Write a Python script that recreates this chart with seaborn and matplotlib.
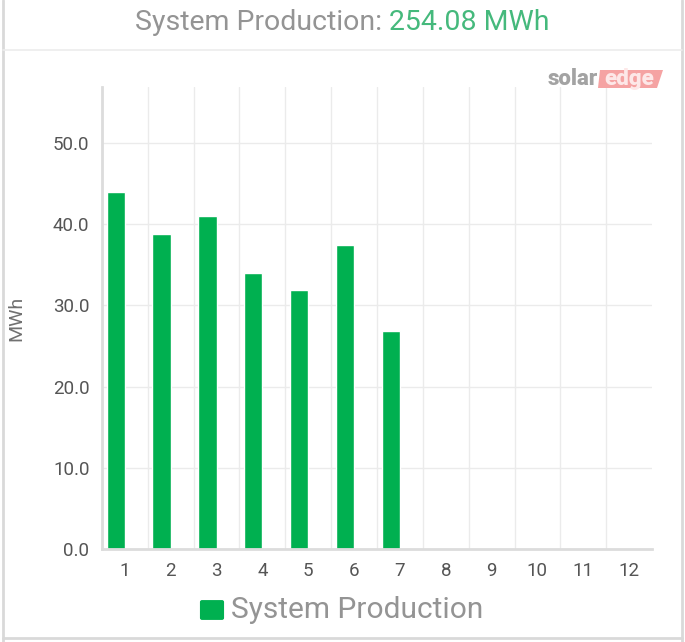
import matplotlib
matplotlib.use("Agg")
import matplotlib.pyplot as plt
from matplotlib.patches import FancyBboxPatch, Polygon
from matplotlib.lines import Line2D
import seaborn as sns
import pandas as pd
import numpy as np

# ---- data ----
months = ["1", "2", "3", "4", "5", "6", "7", "8", "9", "10", "11", "12"]
production = [44.0, 38.8, 41.0, 34.0, 31.9, 37.5, 26.9, np.nan, np.nan, np.nan, np.nan, np.nan]
series_name = "System Production"
total_text = "254.08 MWh"
y_ticks = [0, 10, 20, 30, 40, 50]

sns.set_theme(style="white")
plt.rcParams["font.family"] = ["Roboto", "DejaVu Sans"]

df = pd.DataFrame({
    "month": months * 2,
    "value": production + [np.nan] * len(months),
    "series": [series_name] * len(months) + ["_empty"] * len(months),
})

W, H = 685, 642
fig = plt.figure(figsize=(W / 100, H / 100), dpi=100)
ax = fig.add_axes([102 / W, 1 - 549 / H, (652 - 102) / W, (549 - 87) / H])

green = "#00B050"
sns.barplot(data=df, x="month", y="value", hue="series", order=months,
            hue_order=[series_name, "_empty"], palette=[green, green],
            width=0.8, dodge=True, ax=ax, legend=False, saturation=1)

ax.set_ylim(0, 56.9)
ax.set_xlim(-0.5, 11.5)
ax.set_yticks(y_ticks)
ax.set_yticklabels([f"{v:.1f}" for v in y_ticks])
ax.set_xlabel("")
ax.set_ylabel("MWh", color="#707070", fontsize=14, labelpad=20)
ax.tick_params(axis="both", colors="#555555", labelsize=13.5, length=0, pad=9)
for t in ax.get_xticklabels() + ax.get_yticklabels():
    t.set_color("#555555")

grid_c = "#ebebeb"
for yv in y_ticks[1:]:
    ax.axhline(yv, color=grid_c, lw=1, zorder=0)
for xv in np.arange(0.5, 11.5, 1):
    ax.axvline(xv, color=grid_c, lw=1, zorder=0)
ax.set_axisbelow(True)

for s in ["top", "right"]:
    ax.spines[s].set_visible(False)
ax.spines["left"].set_color("#dcdcdc")
ax.spines["left"].set_linewidth(2)
ax.spines["bottom"].set_color("#dcdcdc")
ax.spines["bottom"].set_linewidth(2)

# frame / header separators
fig.add_artist(Line2D([3 / W, 3 / W], [0, 1], transform=fig.transFigure, color="#d9d9d9", lw=2))
fig.add_artist(Line2D([682 / W, 682 / W], [0, 1], transform=fig.transFigure, color="#d9d9d9", lw=2))
fig.add_artist(Line2D([3 / W, 682 / W], [1 - 638 / H, 1 - 638 / H], transform=fig.transFigure, color="#d9d9d9", lw=2))
fig.add_artist(Line2D([3 / W, 682 / W], [1 - 50 / H, 1 - 50 / H], transform=fig.transFigure, color="#ececec", lw=1.2))

# title
ty = 1 - 22 / H
t1 = fig.text(0.5, ty, "System Production: ", ha="left", va="center",
              fontsize=20.5, color="#949494")
t2 = fig.text(0.5, ty, total_text, ha="left", va="center", fontsize=20.5, color="#45b97c")
fig.canvas.draw()
r = fig.canvas.get_renderer()
w1 = t1.get_window_extent(r).width
w2 = t2.get_window_extent(r).width
x0 = (W / 2 - (w1 + w2) / 2) / W
t1.set_x(x0)
t2.set_x(x0 + w1 / W)

# logo
ly = 1 - 79 / H
fig.text(598 / W, ly, "solar", ha="right", va="center", fontsize=16,
         fontweight="heavy", color="#a3a3a3")
fig.add_artist(Polygon([(598 / W, 1 - 88 / H), (657 / W, 1 - 88 / H), (663 / W, 1 - 70 / H),
                        (600 / W, 1 - 70 / H)], closed=True, transform=fig.transFigure,
                       color="#f5a3a3", lw=0))
fig.text(629 / W, ly, "edge", ha="center", va="center", fontsize=16,
         fontweight="heavy", color="#fde8e8")

# legend
fig.add_artist(FancyBboxPatch((202 / W, 1 - 618 / H), 20 / W, 16 / H,
                              boxstyle="round,pad=0.003", transform=fig.transFigure,
                              color=green, lw=0))
fig.text(231 / W, 1 - 610 / H, series_name, ha="left", va="center", fontsize=21.5, color="#949494")

fig.savefig("out.png", dpi=100)
